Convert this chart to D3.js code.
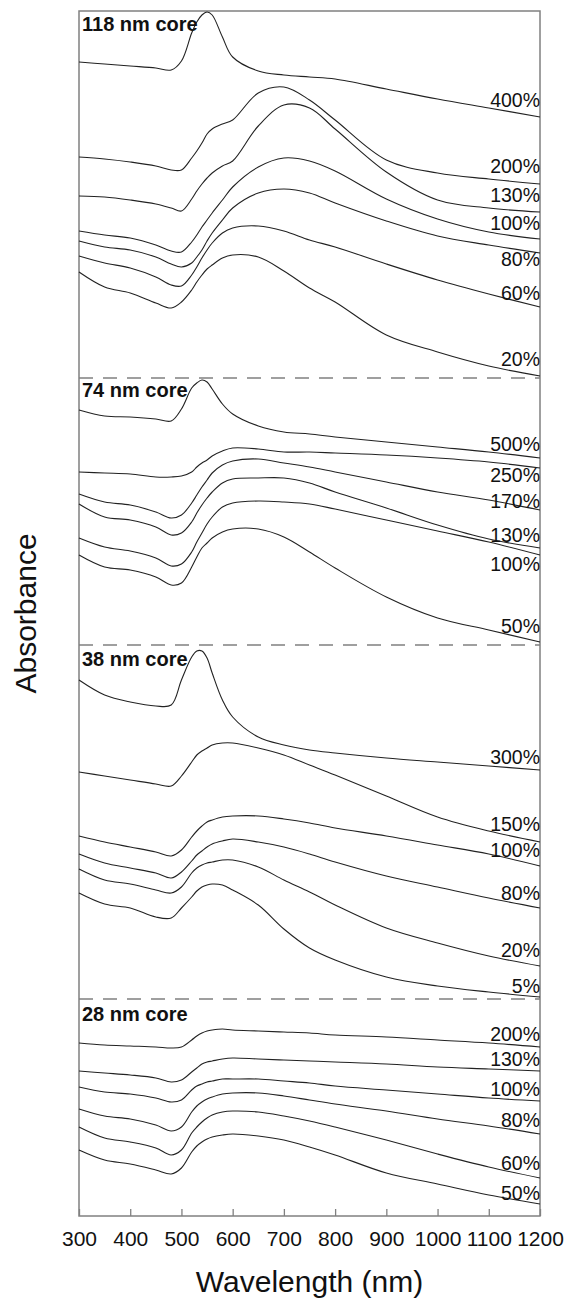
<!DOCTYPE html>
<html>
<head>
<meta charset="utf-8">
<script src="https://cdn.jsdelivr.net/npm/d3@7"></script>
<style>
  body { margin: 0; background: #fff; }
  svg text { font-family: "Liberation Sans", Arial, sans-serif; fill: #111; }
</style>
</head>
<body>
<svg id="chart" width="567" height="1306"></svg>
<script>
// wavelength grid (nm) shared by every spectrum
var wavelengths = [300, 350, 400, 450, 480, 500, 520, 530, 540, 550, 560, 580, 600, 650, 700, 750, 800, 900, 1000, 1100, 1200];
var xTicks = [300, 400, 500, 600, 700, 800, 900, 1000, 1100, 1200];

// stacked absorbance (offset a.u.), label anchor in same units
var core118 = [
    { label: "400%", at: 11.09, values: [11.54, 11.52, 11.50, 11.48, 11.46, 11.55, 11.83, 11.94, 12.01, 12.04, 12.01, 11.79, 11.59, 11.45, 11.41, 11.39, 11.37, 11.27, 11.17, 11.08, 10.99] },
    { label: "200%", at: 10.43, values: [10.59, 10.57, 10.54, 10.50, 10.46, 10.46, 10.58, 10.65, 10.73, 10.82, 10.87, 10.92, 10.96, 11.23, 11.29, 11.16, 10.96, 10.56, 10.43, 10.37, 10.32] },
    { label: "130%", at: 10.14, values: [10.20, 10.19, 10.16, 10.12, 10.08, 10.05, 10.17, 10.25, 10.32, 10.38, 10.43, 10.50, 10.55, 10.90, 11.11, 11.08, 10.87, 10.44, 10.16, 10.08, 10.04] },
    { label: "100%", at: 9.86, values: [9.85, 9.81, 9.78, 9.71, 9.65, 9.64, 9.74, 9.81, 9.89, 9.96, 10.03, 10.16, 10.29, 10.49, 10.58, 10.55, 10.45, 10.17, 9.97, 9.84, 9.77] },
    { label: "80%", at: 9.50, values: [9.75, 9.69, 9.66, 9.59, 9.52, 9.49, 9.53, 9.59, 9.66, 9.75, 9.83, 9.96, 10.08, 10.23, 10.27, 10.23, 10.13, 9.95, 9.80, 9.71, 9.63] },
    { label: "60%", at: 9.16, values: [9.60, 9.53, 9.48, 9.39, 9.31, 9.30, 9.41, 9.49, 9.58, 9.66, 9.73, 9.83, 9.88, 9.90, 9.85, 9.76, 9.69, 9.52, 9.36, 9.22, 9.09] },
    { label: "20%", at: 8.50, values: [9.44, 9.29, 9.23, 9.13, 9.08, 9.14, 9.26, 9.34, 9.41, 9.47, 9.51, 9.58, 9.61, 9.59, 9.45, 9.28, 9.14, 8.81, 8.64, 8.50, 8.40] }
];
var core74 = [
    { label: "500%", at: 7.65, values: [8.06, 8.00, 7.99, 7.97, 7.95, 8.07, 8.28, 8.33, 8.36, 8.34, 8.27, 8.12, 8.02, 7.90, 7.84, 7.82, 7.79, 7.74, 7.69, 7.64, 7.58] },
    { label: "250%", at: 7.34, values: [7.44, 7.43, 7.42, 7.39, 7.39, 7.40, 7.44, 7.49, 7.53, 7.56, 7.60, 7.65, 7.68, 7.67, 7.64, 7.64, 7.63, 7.61, 7.58, 7.54, 7.48] },
    { label: "170%", at: 7.08, values: [7.22, 7.14, 7.11, 7.04, 6.98, 7.01, 7.13, 7.21, 7.29, 7.36, 7.43, 7.51, 7.55, 7.57, 7.53, 7.49, 7.44, 7.34, 7.24, 7.16, 7.06] },
    { label: "130%", at: 6.74, values: [7.12, 6.99, 6.96, 6.89, 6.81, 6.83, 6.94, 7.03, 7.11, 7.18, 7.24, 7.33, 7.37, 7.38, 7.38, 7.33, 7.24, 7.08, 6.91, 6.77, 6.68] },
    { label: "100%", at: 6.45, values: [6.78, 6.69, 6.65, 6.58, 6.50, 6.52, 6.64, 6.74, 6.83, 6.92, 6.99, 7.09, 7.13, 7.15, 7.14, 7.12, 7.07, 6.96, 6.85, 6.74, 6.61] },
    { label: "50%", at: 5.83, values: [6.61, 6.49, 6.46, 6.39, 6.31, 6.33, 6.49, 6.59, 6.68, 6.73, 6.78, 6.84, 6.87, 6.87, 6.79, 6.64, 6.48, 6.19, 5.98, 5.86, 5.74] }
];
var core38 = [
    { label: "300%", at: 4.52, values: [5.36, 5.21, 5.14, 5.10, 5.11, 5.36, 5.59, 5.65, 5.65, 5.58, 5.43, 5.16, 4.99, 4.79, 4.71, 4.66, 4.63, 4.58, 4.54, 4.50, 4.46] },
    { label: "150%", at: 3.85, values: [4.44, 4.40, 4.36, 4.32, 4.30, 4.40, 4.54, 4.61, 4.65, 4.68, 4.71, 4.73, 4.73, 4.68, 4.61, 4.51, 4.41, 4.20, 3.99, 3.85, 3.74] },
    { label: "100%", at: 3.59, values: [3.80, 3.74, 3.69, 3.64, 3.60, 3.66, 3.79, 3.85, 3.90, 3.94, 3.96, 3.99, 4.00, 4.00, 3.97, 3.93, 3.88, 3.80, 3.71, 3.62, 3.50] },
    { label: "80%", at: 3.16, values: [3.62, 3.53, 3.48, 3.43, 3.38, 3.44, 3.55, 3.61, 3.65, 3.69, 3.72, 3.75, 3.77, 3.74, 3.69, 3.62, 3.54, 3.40, 3.29, 3.18, 3.08] },
    { label: "20%", at: 2.59, values: [3.47, 3.36, 3.32, 3.26, 3.23, 3.29, 3.43, 3.48, 3.51, 3.53, 3.54, 3.56, 3.56, 3.49, 3.36, 3.24, 3.11, 2.88, 2.73, 2.60, 2.50] },
    { label: "5%", at: 2.23, values: [3.23, 3.12, 3.08, 2.99, 2.98, 3.08, 3.19, 3.25, 3.29, 3.31, 3.32, 3.31, 3.26, 3.11, 2.87, 2.68, 2.56, 2.39, 2.30, 2.24, 2.19] }
];
var core28 = [
    { label: "200%", at: 1.75, values: [1.73, 1.71, 1.70, 1.69, 1.68, 1.69, 1.76, 1.80, 1.83, 1.85, 1.86, 1.87, 1.86, 1.85, 1.84, 1.83, 1.81, 1.79, 1.76, 1.73, 1.69] },
    { label: "130%", at: 1.50, values: [1.45, 1.43, 1.41, 1.38, 1.34, 1.36, 1.44, 1.48, 1.52, 1.54, 1.55, 1.57, 1.58, 1.57, 1.56, 1.55, 1.54, 1.52, 1.49, 1.47, 1.45] },
    { label: "100%", at: 1.20, values: [1.29, 1.24, 1.22, 1.18, 1.14, 1.16, 1.26, 1.30, 1.32, 1.34, 1.35, 1.37, 1.37, 1.37, 1.35, 1.33, 1.30, 1.26, 1.22, 1.18, 1.15] },
    { label: "80%", at: 0.89, values: [1.07, 1.00, 0.97, 0.91, 0.85, 0.89, 1.04, 1.10, 1.14, 1.17, 1.19, 1.22, 1.23, 1.23, 1.20, 1.16, 1.12, 1.05, 0.97, 0.90, 0.82] },
    { label: "60%", at: 0.46, values: [0.89, 0.78, 0.74, 0.68, 0.61, 0.66, 0.83, 0.89, 0.94, 0.98, 1.01, 1.04, 1.05, 1.04, 1.00, 0.95, 0.89, 0.76, 0.62, 0.49, 0.38] },
    { label: "50%", at: 0.16, values: [0.66, 0.56, 0.52, 0.46, 0.42, 0.48, 0.64, 0.70, 0.74, 0.77, 0.79, 0.81, 0.82, 0.80, 0.76, 0.69, 0.61, 0.43, 0.32, 0.21, 0.12] }
];

var panelTitles = ["118 nm core", "74 nm core", "38 nm core", "28 nm core"];
var panelTitleAt = [11.85, 8.19, 5.50, 1.95];
var panelSeries = [core118, core74, core38, core28];
var dividers = [8.38, 5.71, 2.17];

(function () {
    var svg = d3.select('#chart');
    var mLeft = 79, mRight = 540, mTop = 11, mBottom = 1216;

    var x = d3.scaleLinear().domain([300, 1200]).range([mLeft, mRight]);
    var y = d3.scaleLinear().domain([0, 12.05]).range([mBottom, mTop]);

    var line = d3.line()
            .x(function (d, i) { return x(wavelengths[i]); })
            .y(function (d) { return y(d); })
            .curve(d3.curveCatmullRom.alpha(0.5));

    // frame
    svg.append('rect')
        .attr('x', mLeft).attr('y', mTop)
        .attr('width', mRight - mLeft).attr('height', mBottom - mTop)
        .attr('fill', 'none')
        .attr('stroke', '#808080')
        .attr('stroke-width', 1.5);

    // dashed separators between panels
    svg.selectAll('line.divider')
        .data(dividers)
        .enter()
        .append('line')
        .attr('class', 'divider')
        .attr('x1', x(300)).attr('x2', x(1200))
        .attr('y1', function (d) { return y(d); })
        .attr('y2', function (d) { return y(d); })
        .attr('stroke', '#808080')
        .attr('stroke-width', 1.3)
        .attr('stroke-dasharray', '14,10');

    // x axis with inward ticks
    var xAxis = d3.axisBottom(x)
            .tickValues(xTicks)
            .tickFormat(d3.format('d'))
            .tickSize(-7)
            .tickPadding(15);
    var ax = svg.append('g')
            .attr('transform', 'translate(0,' + mBottom + ')')
            .call(xAxis);
    ax.select('.domain').remove();
    ax.selectAll('line').attr('stroke', '#808080').attr('stroke-width', 1.3);
    ax.selectAll('text')
        .attr('font-size', 21)
        .attr('fill', '#111');

    // spectra
    panelSeries.forEach(function (series, p) {
        var g = svg.append('g').attr('class', 'panel');

        g.selectAll('path.spectrum')
            .data(series)
            .enter()
            .append('path')
            .attr('class', 'spectrum')
            .attr('d', function (d) { return line(d.values); })
            .attr('fill', 'none')
            .attr('stroke', '#222')
            .attr('stroke-width', 1.1);

        g.selectAll('text.pct')
            .data(series)
            .enter()
            .append('text')
            .attr('class', 'pct')
            .attr('x', x(1200))
            .attr('y', function (d) { return y(d.at); })
            .attr('text-anchor', 'end')
            .attr('font-size', 19.5)
            .text(function (d) { return d.label; });

        g.append('text')
            .attr('x', x(300) + 3)
            .attr('y', y(panelTitleAt[p]))
            .attr('font-size', 20)
            .attr('font-weight', 'bold')
            .text(panelTitles[p]);
    });

    // axis titles
    svg.append('text')
        .attr('x', (mLeft + mRight) / 2)
        .attr('y', 1292)
        .attr('text-anchor', 'middle')
        .attr('font-size', 30)
        .text('Wavelength (nm)');

    svg.append('text')
        .attr('transform', 'translate(36,' + ((mTop + mBottom) / 2) + ') rotate(-90)')
        .attr('text-anchor', 'middle')
        .attr('font-size', 30)
        .text('Absorbance');
})();
</script>
</body>
</html>
